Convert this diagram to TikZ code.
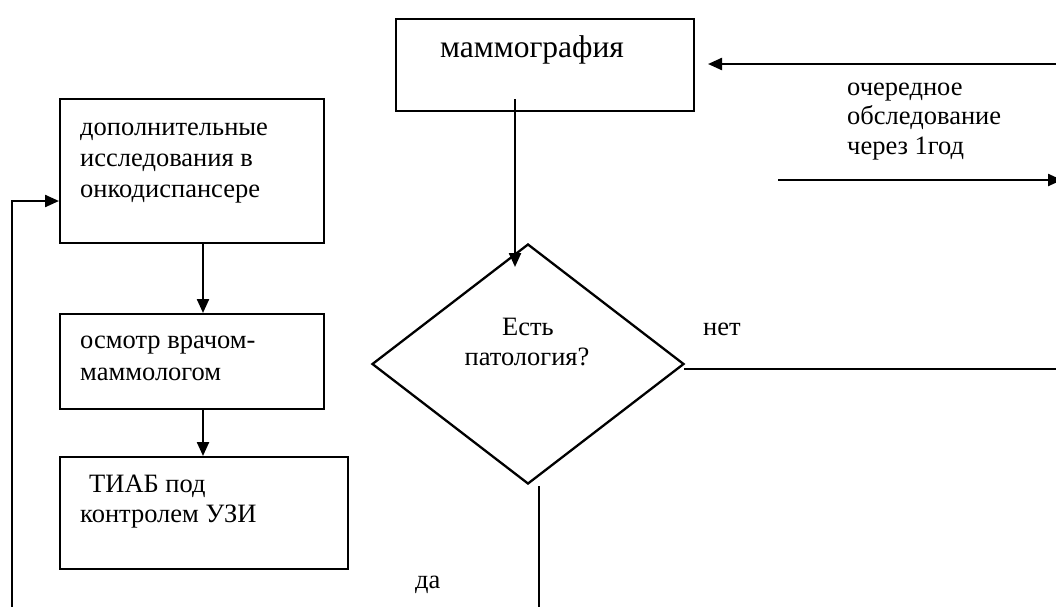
\documentclass[tikz,border=0pt]{standalone}
\usepackage{fontspec}
\setmainfont{Liberation Serif}
\usetikzlibrary{arrows.meta,shapes.geometric}
\begin{document}
\begin{tikzpicture}[x=1pt,y=-1pt,
  every node/.style={font=\fontsize{26.5}{31}\selectfont},
  box/.style={draw, line width=2.3pt, anchor=north west, inner sep=0pt},
  lbl/.style={anchor=base west, inner sep=0pt},
  big/.style={font=\fontsize{31.5}{36}\selectfont},
  conn/.style={line width=2.3pt},
  arr/.style={conn, -{Triangle[length=14pt,width=12pt]}},
]
\useasboundingbox (0,0) rectangle (1056,606);

% boxes
\node[box, minimum width=298pt, minimum height=92pt] (mammo) at (395,18) {};
\node[box, minimum width=264pt, minimum height=144pt] (b1) at (59,98) {};
\node[box, minimum width=264pt, minimum height=95pt] (b2) at (59,313) {};
\node[box, minimum width=288pt, minimum height=112pt] (b3) at (59,456) {};
\node[draw, diamond, line width=2.3pt, minimum width=312pt, minimum height=240pt, inner sep=0pt] (dia) at (528,364) {};

% texts
\node[lbl, big] (tm) at (440,57) {маммография};
\node[lbl] (t1a) at (80,135) {дополнительные};
\node[lbl] (t1b) at (80,166) {исследования в};
\node[lbl] (t1c) at (80,197) {онкодиспансере};
\node[lbl] (t2a) at (80,348) {осмотр врачом-};
\node[lbl] (t2b) at (80,380) {маммологом};
\node[lbl] (t3a) at (89,492) {ТИАБ под};
\node[lbl] (t3b) at (80,522) {контролем УЗИ};
\node[anchor=base, inner sep=0pt] (td1) at (528,335) {Есть};
\node[anchor=base, inner sep=0pt] (td2) at (527,365) {патология?};
\node[lbl] (tnet) at (703,335) {нет};
\node[lbl] (tda) at (415,588) {да};
\node[lbl] (to1) at (847,95) {очередное};
\node[lbl] (to2) at (847,124) {обследование};
\node[lbl] (to3) at (847,154) {через 1год};

% connector coordinates
\coordinate (ms) at (515,99);
\coordinate (me) at (515,267);
\coordinate (tr) at (1058,64);
\coordinate (tl) at (708,64);
\coordinate (rs) at (778,180);
\coordinate (re) at (1062,180);
\coordinate (ns) at (684,369);
\coordinate (ne) at (1058,369);
\coordinate (ds) at (539,486);
\coordinate (de) at (539,608);
\coordinate (lb) at (12,608);
\coordinate (ax) at (203,0);

% connectors
\draw[arr] (ms) -- (me);
\draw[arr] (tr) -- (tl);
\draw[arr] (rs) -- (re);
\draw[conn] (ns) -- (ne);
\draw[conn] (ds) -- (de);
\draw[arr] (lb) |- ([yshift=-103pt]b1.north west);
\draw[arr] (b1.south -| ax) -- (b2.north -| ax);
\draw[arr] (b2.south -| ax) -- (b3.north -| ax);
\end{tikzpicture}
\end{document}
